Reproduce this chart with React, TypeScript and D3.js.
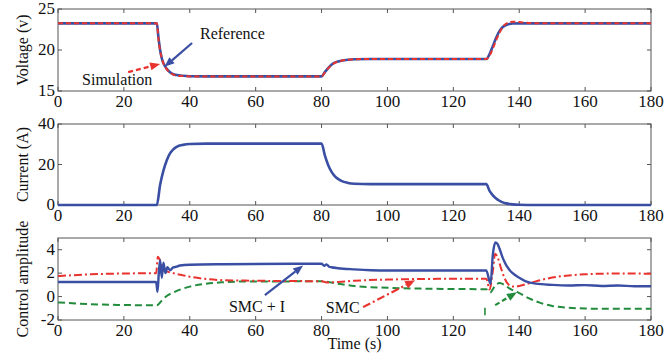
import React from "react";
import * as d3 from "d3";

// ---------- data ----------
const xTicks = [0, 20, 40, 60, 80, 100, 120, 140, 160, 180];
const voltTicks = [15, 20, 25];
const currTicks = [0, 20, 40];
const ctrlTicks = [-2, 0, 2, 4];

const voltRefT = [0, 30, 30.5, 31, 31.5, 32, 33, 34, 35, 36, 38, 40, 45, 80, 81, 82, 83, 84, 85, 86, 88, 90, 95, 130, 131, 132, 133, 134, 135, 136, 137, 138, 140, 145, 180];
const voltRefV = [23.25, 23.25, 21.5, 20.0, 19.0, 18.4, 17.7, 17.3, 17.05, 16.95, 16.85, 16.8, 16.78, 16.78, 17.3, 17.8, 18.2, 18.45, 18.6, 18.7, 18.82, 18.88, 18.9, 18.9, 19.5, 20.5, 21.5, 22.3, 22.8, 23.05, 23.18, 23.23, 23.25, 23.25, 23.25];

const voltSimT = [0, 30, 30.5, 31, 31.5, 32, 33, 34, 35, 36, 38, 40, 45, 80, 81, 82, 83, 84, 85, 86, 88, 90, 95, 130, 131, 132, 133, 134, 135, 136, 137, 138, 140, 143, 146, 180];
const voltSimV = [23.25, 23.25, 21.3, 19.9, 19.0, 18.35, 17.65, 17.25, 17.0, 16.9, 16.82, 16.78, 16.78, 16.78, 17.25, 17.75, 18.15, 18.42, 18.6, 18.7, 18.82, 18.88, 18.9, 18.9, 19.3, 20.2, 21.2, 22.1, 22.8, 23.2, 23.4, 23.45, 23.4, 23.3, 23.25, 23.25];

const currT = [0, 30, 31, 32, 33, 34, 35, 36, 38, 40, 45, 80, 81, 82, 83, 84, 85, 86, 88, 90, 95, 130, 131, 132, 133, 134, 135, 136, 138, 140, 145, 180];
const currV = [0, 0, 10, 17, 22, 25.5, 27.5, 28.7, 29.7, 30.1, 30.3, 30.3, 24.5, 19.8, 16.5, 14.3, 12.9, 11.9, 10.9, 10.5, 10.3, 10.3, 7.0, 4.8, 3.2, 2.1, 1.3, 0.8, 0.3, 0.1, 0, 0];

const smciT = [0, 29.8, 30.2, 30.6, 31.0, 31.5, 32, 32.6, 33.2, 34, 35, 36, 37, 40, 50, 80, 80.8, 81.5, 82.3, 83, 85, 90, 95, 100, 130, 131.3, 132, 132.8, 133.5, 134, 135, 136, 137, 138, 140, 142, 145, 150, 155, 160, 165, 170, 175, 180];
const smciV = [1.25, 1.25, 0.4, 2.0, 3.1, 1.6, 2.9, 2.0, 2.5, 2.25, 2.5, 2.55, 2.65, 2.72, 2.76, 2.8, 2.62, 2.75, 2.55, 2.5, 2.42, 2.32, 2.25, 2.22, 2.22, 1.1, 3.6, 4.62, 4.45, 4.1, 3.3, 2.7, 2.3, 2.0, 1.6, 1.3, 1.1, 1.0, 0.95, 0.98, 0.9, 0.95, 0.88, 0.88];

const smcT = [0, 10, 20, 29.8, 30.3, 30.8, 31.5, 32, 33, 35, 40, 45, 50, 60, 80, 82, 85, 90, 100, 110, 130, 131, 132, 132.7, 133.5, 134.5, 135.5, 136.5, 138, 140, 142, 145, 150, 155, 160, 170, 180];
const smcV = [1.75, 1.9, 1.97, 2.0, 3.4, 3.2, 2.6, 2.3, 2.15, 2.0, 1.7, 1.5, 1.4, 1.35, 1.3, 1.2, 1.25, 1.35, 1.45, 1.5, 1.53, 0.6, 2.2, 3.65, 3.3, 2.4, 1.6, 1.1, 0.85, 0.9, 1.05, 1.3, 1.62, 1.8, 1.9, 1.97, 1.95];

const intT = [0, 10, 20, 30, 31, 32, 33, 35, 40, 45, 50, 55, 80, 85, 90, 100, 110, 130, 131.2, 132.5, 134, 135.5, 137, 140, 143, 146, 150, 155, 160, 170, 180];
const intV = [-0.5, -0.65, -0.72, -0.75, -0.5, -0.2, 0.05, 0.35, 0.85, 1.1, 1.22, 1.28, 1.3, 1.1, 0.9, 0.75, 0.68, 0.62, 0.35, 0.85, 1.15, 1.0, 0.7, 0.3, -0.15, -0.5, -0.8, -0.95, -1.02, -1.05, -1.05];

// ---------- layout ----------
const W = 668, H = 356;
const X0 = 58, X1 = 651;
const FONT = "Liberation Serif";
const BLUE = "#3a4fa3";
const RED = "#e8332f";
const GREEN = "#228b3c";

const xScale = d3.scaleLinear().domain([0, 180]).range([X0, X1]);

type Panel = {
  top: number; bottom: number; domain: [number, number]; ticks: number[]; label: string;
};
const panels: Panel[] = [
  { top: 9, bottom: 91, domain: [15, 25], ticks: voltTicks, label: "Voltage (v)" },
  { top: 124, bottom: 205, domain: [0, 40], ticks: currTicks, label: "Current (A)" },
  { top: 238, bottom: 320, domain: [-2, 5], ticks: ctrlTicks, label: "Control amplitude" },
];

function Frame({ p, y }: { p: Panel; y: d3.ScaleLinear<number, number> }) {
  const tl = 4;
  return (
    <g>
      <rect x={X0} y={p.top} width={X1 - X0} height={p.bottom - p.top} fill="none" stroke="#555" strokeWidth={1} />
      {xTicks.map((t) => (
        <g key={"x" + t}>
          <line x1={xScale(t)} x2={xScale(t)} y1={p.bottom} y2={p.bottom - tl} stroke="#555" />
          <line x1={xScale(t)} x2={xScale(t)} y1={p.top} y2={p.top + tl} stroke="#555" />
          <text x={xScale(t)} y={p.bottom + 16} textAnchor="middle" style={{ fontSize: 17, fontFamily: FONT }} fill="#111">{t}</text>
        </g>
      ))}
      {p.ticks.map((t) => (
        <g key={"y" + t}>
          <line x1={X0} x2={X0 + tl} y1={y(t)} y2={y(t)} stroke="#555" />
          <line x1={X1} x2={X1 - tl} y1={y(t)} y2={y(t)} stroke="#555" />
          <text x={X0 - 3} y={y(t) + 5} textAnchor="end" style={{ fontSize: 17, fontFamily: FONT }} fill="#111">{t}</text>
        </g>
      ))}
      <text transform={`translate(28,${(p.top + p.bottom) / 2}) rotate(-90)`} textAnchor="middle" style={{ fontSize: 16, fontFamily: FONT }} fill="#111">{p.label}</text>
    </g>
  );
}

function mkLine(T: number[], V: number[], y: d3.ScaleLinear<number, number>) {
  const pts: [number, number][] = T.map((t, i) => [t, V[i]]);
  return d3.line<[number, number]>().x((d) => xScale(d[0])).y((d) => y(d[1])).curve(d3.curveMonotoneX)(pts) || "";
}

function Arrow({ x1, y1, x2, y2, color, dash }: { x1: number; y1: number; x2: number; y2: number; color: string; dash?: string }) {
  const ang = Math.atan2(y2 - y1, x2 - x1);
  const L = 10, Wd = 4;
  const bx = x2 - L * Math.cos(ang), by = y2 - L * Math.sin(ang);
  const px = -Math.sin(ang) * Wd, py = Math.cos(ang) * Wd;
  return (
    <g>
      <line x1={x1} y1={y1} x2={bx} y2={by} stroke={color} strokeWidth={2.2} strokeDasharray={dash} />
      <path d={`M${x2},${y2}L${bx + px},${by + py}L${bx - px},${by - py}Z`} fill={color} />
    </g>
  );
}

const txt = { fontSize: 16, fontFamily: FONT };

export default function App() {
  const y1 = d3.scaleLinear().domain(panels[0].domain).range([panels[0].bottom, panels[0].top]);
  const y2 = d3.scaleLinear().domain(panels[1].domain).range([panels[1].bottom, panels[1].top]);
  const y3 = d3.scaleLinear().domain(panels[2].domain).range([panels[2].bottom, panels[2].top]);
  const ys = [y1, y2, y3];
  return (
    <svg width={W} height={H} style={{ position: "absolute", left: 0, top: 0, background: "#fff" }}>
      <rect width={W} height={H} fill="#fff" />
      {panels.map((p, i) => <Frame key={i} p={p} y={ys[i]} />)}

      {/* panel 1 */}
      <path d={mkLine(voltRefT, voltRefV, y1)} fill="none" stroke={BLUE} strokeWidth={2.6} />
      <path d={mkLine(voltSimT, voltSimV, y1)} fill="none" stroke={RED} strokeWidth={2} strokeDasharray="5,3" />
      <text x={xScale(43.1)} y={y1(21.95) + 5} style={txt} fill="#111">Reference</text>
      <Arrow x1={xScale(40.7)} y1={y1(20.85)} x2={xScale(32.3)} y2={y1(17.95)} color={BLUE} />
      <text x={xScale(7.3)} y={y1(16.35) + 5} style={txt} fill="#111">Simulation</text>
      <Arrow x1={xScale(21.3)} y1={y1(17.3)} x2={xScale(31)} y2={y1(18.3)} color={RED} dash="5,3" />

      {/* panel 2 */}
      <path d={mkLine(currT, currV, y2)} fill="none" stroke={BLUE} strokeWidth={2.6} />

      {/* panel 3 */}
      <path d={mkLine(intT, intV, y3)} fill="none" stroke={GREEN} strokeWidth={2} strokeDasharray="7,4" />
      <path d={mkLine(smcT, smcV, y3)} fill="none" stroke={RED} strokeWidth={2} strokeDasharray="8,3,2,3" />
      <path d={mkLine(smciT, smciV, y3)} fill="none" stroke={BLUE} strokeWidth={2.4} />
      <text x={xScale(51.9)} y={y3(-0.9) + 5} style={txt} fill="#111">SMC + I</text>
      <Arrow x1={xScale(62.8)} y1={y3(0.12)} x2={xScale(74.4)} y2={y3(2.66)} color={BLUE} />
      <text x={xScale(81.3)} y={y3(-0.95) + 5} style={txt} fill="#111">SMC</text>
      <Arrow x1={xScale(92.6)} y1={y3(-0.9)} x2={xScale(108.4)} y2={y3(1.39)} color={RED} dash="8,3,2,3" />
      <line x1={xScale(129.6)} x2={xScale(129.6)} y1={y3(-0.95)} y2={y3(-1.6)} stroke={GREEN} strokeWidth={1.6} />
      <Arrow x1={xScale(132.7)} y1={y3(-0.73)} x2={xScale(139.3)} y2={y3(0.37)} color={GREEN} dash="5,3" />

      <text x={(X0 + X1) / 2} y={349} textAnchor="middle" style={txt} fill="#111">Time (s)</text>
    </svg>
  );
}
